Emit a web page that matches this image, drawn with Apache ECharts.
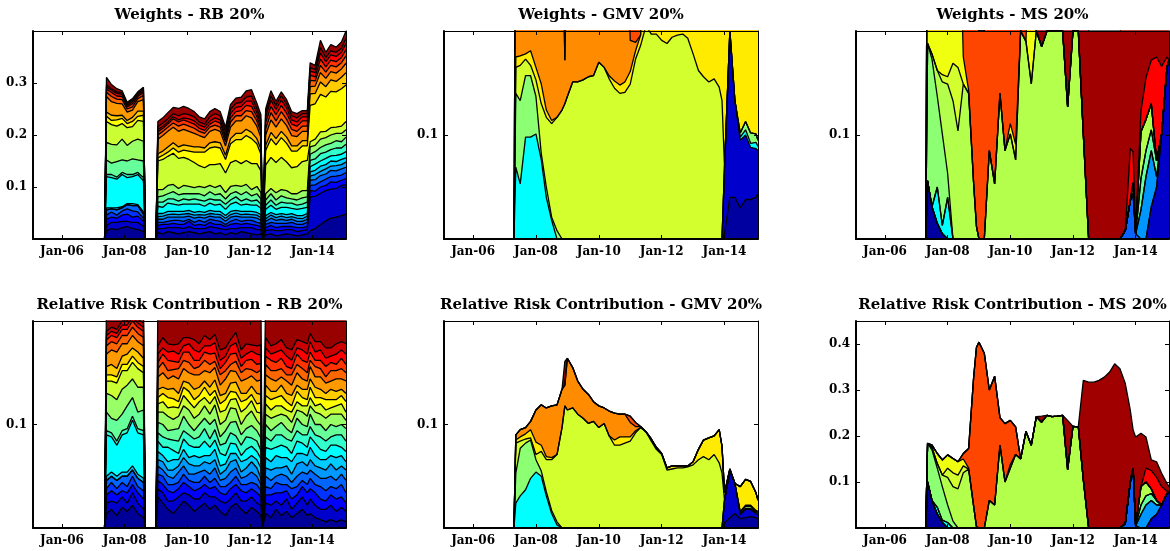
<!DOCTYPE html>
<html><head><meta charset="utf-8">
<script src="https://cdn.jsdelivr.net/npm/echarts@6/dist/echarts.min.js"></script>
<style>html,body{margin:0;padding:0;background:#fff}#c{width:1170px;height:551px}</style>
</head><body><div id="c"></div>
<script>
// ---------- time grids (fractional years) ----------
const RB_DATES = [2005.075,2007.36,2007.42,2007.58,2007.75,2007.92,2008.08,2008.25,2008.42,2008.60,2008.66,2009.00,2009.06,2009.22,2009.38,2009.55,2009.72,2009.88,2010.05,2010.22,2010.38,2010.55,2010.72,2010.88,2011.05,2011.22,2011.38,2011.55,2011.72,2011.88,2012.05,2012.22,2012.35,2012.40,2012.46,2012.50,2012.67,2012.83,2013.00,2013.17,2013.33,2013.50,2013.67,2013.83,2013.92,2014.08,2014.25,2014.42,2014.58,2014.75,2014.92,2015.065];
const GM_DATES = [2005.075,2007.30,2007.36,2007.50,2007.67,2007.83,2008.00,2008.17,2008.33,2008.50,2008.67,2008.83,2008.92,2009.00,2009.17,2009.33,2009.50,2009.67,2009.83,2010.00,2010.17,2010.33,2010.50,2010.67,2010.83,2011.00,2011.17,2011.33,2011.50,2011.67,2011.83,2012.00,2012.17,2012.33,2012.50,2012.67,2012.83,2013.00,2013.17,2013.33,2013.50,2013.67,2013.83,2013.92,2014.00,2014.17,2014.33,2014.50,2014.67,2014.83,2015.00,2015.065];
const X_TICKS = [2006,2008,2010,2012,2014];
const TITLES = ['Weights - RB 20%','Weights - GMV 20%','Weights - MS 20%','Relative Risk Contribution - RB 20%','Relative Risk Contribution - GMV 20%','Relative Risk Contribution - MS 20%'];

// ---------- values in thousandths ----------
// RB weights, assets 1..20 (stack bottom -> top)
const rbWeights = [
[0,0, 16,20,18,22,24,20,18,14, 0,0, 12,10,14,12,10,12,14,12,10,12,14,10,12,8,12,10,14,12,10,8,10, 0,0, 8,10,6,8,10,8,6,8,10,16,20,28,35,40,42,45,48],
[0,0, 10,12,14,12,10,12,14,10, 0,0, 8,10,8,10,12,8,10,8,10,8,10,12,8,10,8,10,8,10,12,10,8, 0,0, 8,8,10,8,8,10,8,8,8,65,62,60,58,56,55,58,56],
[0,0, 12,10,8,12,14,10,12,10, 0,0, 6,8,6,8,6,8,10,6,8,6,8,6,8,6,8,10,6,8,6,8,6, 0,0, 6,8,6,8,6,6,8,6,6,12,10,12,10,14,12,10,12],
[0,0, 8,10,6,8,10,12,8,6, 0,0, 6,4,6,6,8,6,4,6,8,6,6,8,6,4,6,8,6,6,8,6,6, 0,0, 6,6,8,6,6,8,6,6,8,10,12,10,12,10,12,10,12],
[0,0, 10,6,10,6,8,10,12,8, 0,0, 6,6,8,6,6,8,6,8,6,8,6,6,8,6,8,6,8,6,6,8,6, 0,0, 6,8,6,8,6,6,6,6,6,10,10,12,10,12,10,12,10],
[0,0, 0,0,0,0,0,0,0,0, 0,0, 5,6,5,6,5,6,5,6,5,6,5,6,5,6,5,6,5,6,5,6,5, 0,0, 5,6,5,6,5,5,6,5,6,8,10,8,10,8,10,8,10],
[0,0, 4,2,4,2,2,4,2,4, 0,0, 6,5,6,5,6,5,6,5,6,5,6,5,6,5,6,5,6,5,6,5,6, 0,0, 6,5,6,5,6,6,5,6,5,8,8,10,8,10,8,10,8],
[0,0, 60,58,55,62,50,52,58,60, 0,0, 14,12,16,14,12,14,12,16,14,12,14,12,14,12,14,16,12,14,12,14,12, 0,0, 12,14,10,12,14,10,12,14,12,10,12,10,12,10,12,10,12],
[0,0, 4,6,4,4,6,4,4,6, 0,0, 8,10,8,10,8,10,8,10,8,10,8,10,8,10,8,10,8,10,8,10,8, 0,0, 8,10,8,10,8,10,8,8,10,12,10,14,12,12,14,12,14],
[0,0, 28,22,30,24,26,30,24,32, 0,0, 10,12,10,14,12,10,12,10,12,10,14,10,12,10,12,10,12,14,10,12,10, 0,0, 10,12,10,12,10,8,10,12,10,12,14,12,14,12,14,12,14],
[0,0, 34,36,32,40,30,34,40,38, 0,0, 14,12,16,14,12,16,14,12,14,16,12,14,16,12,14,12,16,14,12,14,12, 0,0, 12,10,14,12,14,10,12,14,12,14,12,16,14,16,14,16,14],
[0,0, 40,38,36,30,34,28,36,38, 0,0, 55,58,56,60,58,54,52,48,40,38,40,44,42,38,46,48,44,46,50,44,42, 0,0, 55,60,58,62,55,50,52,56,58,10,12,14,12,14,12,14,16],
[0,0, 10,8,12,10,8,10,8,12, 0,0, 6,8,8,10,12,14,16,20,26,30,32,34,30,26,36,40,46,48,48,38,32, 0,0, 28,36,34,38,36,32,30,30,28,70,68,72,66,70,68,72,70],
[0,0, 8,10,8,6,6,8,10,8, 0,0, 8,8,10,10,10,10,10,10,10,8,10,10,10,8,10,12,12,12,12,10,10, 0,0, 10,12,12,12,12,10,10,10,10,22,20,24,20,22,20,22,24],
[0,0, 30,26,24,22,16,14,18,22, 0,0, 28,30,30,30,30,30,28,26,22,20,22,24,22,18,22,24,24,26,28,24,22, 0,0, 20,24,22,24,22,20,18,18,18,14,14,18,16,16,16,16,18],
[0,0, 8,10,8,8,6,6,6,8, 0,0, 8,8,8,8,10,10,10,10,8,8,8,8,8,8,10,10,10,10,12,10,10, 0,0, 12,14,12,14,12,12,10,10,10,12,10,14,12,12,12,12,14],
[0,0, 6,8,6,6,4,6,4,6, 0,0, 6,6,6,8,8,8,8,8,6,6,6,8,8,6,8,8,10,10,10,8,8, 0,0, 12,12,12,12,12,10,10,10,10,10,8,12,10,10,10,10,12],
[0,0, 4,4,5,4,3,4,3,4, 0,0, 4,4,4,4,4,4,6,6,6,6,6,6,6,6,8,8,8,8,10,8,8, 0,0, 10,12,10,10,10,8,8,8,8,8,8,12,10,10,10,10,12],
[0,0, 4,3,3,3,3,3,3,3, 0,0, 6,6,6,6,8,8,8,8,6,6,8,8,8,8,8,8,8,8,10,8,8, 0,0, 8,8,8,8,8,8,8,6,6,6,6,10,8,8,8,8,10],
[0,0, 15,8,6,4,3,3,3,3, 0,0, 10,10,12,12,14,14,12,10,10,10,10,10,8,8,10,10,10,12,12,10,10, 0,0, 8,10,8,8,8,8,8,6,6,10,8,14,10,12,10,12,14]
];
// RB relative risk contributions, assets 1..20
const rbRisk = [
[0,0, 14,18,12,20,16,22,14,10, 0,0, 30,24,18,14,20,26,22,16,20,24,18,22,16,12,20,24,18,14,20,16,12, 0,0, 14,10,18,12,16,10,14,18,12,14,10,8,6,8,6,8,6],
[0,0, 10,8,12,10,8,12,10,8, 0,0, 8,10,8,12,10,8,10,12,8,10,12,8,10,12,8,10,8,12,10,8,10, 0,0, 10,12,8,10,12,8,10,12,10,14,12,10,12,14,10,12,10],
[0,0, 8,10,8,6,10,8,10,10, 0,0, 8,8,10,8,8,10,8,8,10,8,8,10,8,8,10,8,10,8,8,10,8, 0,0, 8,10,8,12,8,10,8,10,12,10,12,10,8,10,12,10,8],
[0,0, 6,8,6,8,6,8,6,8, 0,0, 6,8,6,8,6,8,6,8,6,8,6,8,6,8,6,8,6,8,6,8,6, 0,0, 8,6,10,8,6,10,8,6,8,10,8,12,10,8,10,12,10],
[0,0, 8,6,8,6,10,6,8,8, 0,0, 8,6,8,6,10,8,6,8,10,6,8,10,6,8,10,8,6,8,10,8,6, 0,0, 10,8,6,10,8,6,10,8,10,8,10,8,12,10,8,10,12],
[0,0, 0,0,0,0,0,0,0,0, 0,0, 6,8,6,8,6,8,10,8,6,8,10,8,6,8,10,8,6,8,10,8,6, 0,0, 8,10,8,6,10,8,12,10,8,10,8,10,8,12,10,8,10],
[0,0, 4,4,4,4,4,4,4,4, 0,0, 8,6,8,10,6,8,6,10,8,6,8,10,8,6,8,6,10,8,6,8,10, 0,0, 10,8,12,10,8,12,10,8,10,12,10,8,10,8,12,10,8],
[0,0, 40,34,30,36,38,44,40,42, 0,0, 10,8,14,9,6,10,12,8,10,14,8,9,12,8,10,9,6,10,9,8,9, 0,0, 10,12,8,12,10,8,12,10,8,10,12,10,8,10,12,8,10],
[0,0, 4,4,4,4,4,4,4,4, 0,0, 8,10,8,10,12,8,10,8,10,12,8,10,8,12,10,8,10,12,8,10,8, 0,0, 10,8,12,10,8,12,10,8,12,10,8,12,10,8,10,12,10],
[0,0, 18,14,20,16,22,18,16,20, 0,0, 10,12,8,10,12,14,10,8,12,10,14,10,8,12,10,14,10,8,12,10,12, 0,0, 12,10,8,12,10,8,12,10,8,12,10,12,10,12,8,10,12],
[0,0, 18,22,20,24,20,18,24,22, 0,0, 10,12,14,10,12,10,14,12,10,12,10,14,12,10,14,12,10,12,14,10,12, 0,0, 10,12,10,8,12,10,8,12,10,8,12,10,12,10,12,10,8],
[0,0, 12,14,16,18,14,16,18,14, 0,0, 8,10,8,12,8,10,8,10,12,8,10,8,12,10,8,10,12,8,10,8,12, 0,0, 10,8,10,8,6,10,8,6,10,8,6,10,8,6,8,10,8],
[0,0, 6,6,6,6,6,6,6,6, 0,0, 6,8,10,8,6,8,10,8,6,10,8,6,8,10,8,6,10,8,6,8,10, 0,0, 8,10,8,10,8,6,10,8,6,10,8,6,10,8,6,8,10],
[0,0, 8,10,8,8,10,8,10,8, 0,0, 8,6,8,10,8,6,8,10,8,6,8,10,8,6,8,10,8,6,8,10,8, 0,0, 10,8,6,10,8,10,6,8,10,8,10,8,6,10,8,6,8],
[0,0, 12,14,16,12,10,12,10,12, 0,0, 12,14,10,12,14,12,10,14,12,10,14,12,10,14,12,10,12,14,10,12,14, 0,0, 10,12,10,8,12,10,12,10,8,12,10,12,10,8,12,10,12],
[0,0, 8,8,8,8,8,8,8,8, 0,0, 8,10,8,6,10,8,10,6,8,10,8,6,10,8,6,10,8,10,6,8,10, 0,0, 10,8,10,8,6,10,8,10,8,6,10,8,6,10,8,10,8],
[0,0, 6,6,6,6,6,6,6,6, 0,0, 6,8,10,8,6,8,10,8,6,8,10,8,6,8,10,8,6,8,10,8,6, 0,0, 8,10,8,10,8,6,10,8,10,8,6,8,10,8,6,10,8],
[0,0, 4,4,4,4,4,4,4,4, 0,0, 8,6,8,10,8,6,8,10,8,6,8,10,8,6,8,10,8,6,8,10,8, 0,0, 8,6,10,8,10,8,6,10,8,10,8,10,8,6,10,8,10],
[0,0, 4,4,4,4,4,4,4,4, 0,0, 8,10,8,6,10,8,6,10,8,10,6,8,10,8,6,10,8,10,6,8,10, 0,0, 10,8,8,10,8,10,8,8,10,8,10,8,10,8,10,8,10],
[0,0, 30,30,30,30,30,30,30,30, 0,0, 40,40,40,40,40,40,40,40,40,40,40,40,40,40,40,40,40,40,40,40,40, 0,0, 40,40,40,40,40,40,40,40,40,40,40,40,40,40,40,40,40]
];
// GMV weights: assets 1,2,8,10,12,13,15,16,20
const gmvWeights = [
[0,0,0,0,0,0,0,0,0,0, 0,0,0,0,0,0,0,0,0,0, 0,0,0,0,0,0,0,0,0,0, 0,0,0,0,0,0,0,0,0,0, 0,0,0,0, 5,40,40,30,38,38,40,44],
[0,0,0,0,0,0,0,0,0,0, 0,0,0,0,0,0,0,0,0,0, 0,0,0,0,0,0,0,0,0,0, 0,0,0,0,0,0,0,0,0,0, 0,0,0,0, 64,160,93,65,62,50,47,41],
[0,0, 69,53,98,98,101,76,40,18,0, 0,0,0,0,0,0,0,0,0,0, 0,0,0,0,0,0,0,0,0,0, 0,0,0,0,0,0,0,0,0,0, 0,0,0,0,0,0, 3,5,4,6,4],
[0,0, 71,80,59,59,36,6,10,3,8, 0,0,0,0,0,0,0,0,0,0, 0,0,0,0,0,0,0,0,0,0, 0,0,0,0,0,0,0,0,0,0, 0,0,0,0,0,0, 4,8,10,8,6],
[0,0, 25,34,16,10,16,48,67,90,109, 124,130,137,151,151,153,156,157,170,165,154,145,140,141,149,173,186,205,197,197,191,188,194,196,197,193,178,162,156,151,154,146,133, 0,0,0,0,0,0,0,0],
[0,0, 10,9,5,14,12,19,7,3,0, 0,0,0,0,0,0,0,0,0,0, 3,7,8,10,12,8,10, 200,200,200,200,200,200,200,200,200,200,200,200,200,200,200,200,200,200,200,200,200,200,200,200],
[0,0, 200,200,200,200,200,200,200,200,200,200, 42, 200,200,200,200,200,200,200,200,200,200,200,200, 30,8, 0,0,0,0,0,0,0,0,0,0,0,0,0,0,0,0,0,0,0,0,0,0,0,0,0],
[0,0,0,0,0,0,0,0,0,0, 0,0,0,0,0,0,0,0,0,0, 0,0,0,0,0, 200,200,200, 0,0,0,0,0,0,0,0,0,0,0,0,0,0,0,0,0,0,0,0,0,0,0,0],
[0,0,0,0,0,0,0,0,0,0, 0,0, 200, 0,0,0,0,0,0,0,0,0,0,0,0,0,0,0,0,0,0,0,0,0,0,0,0,0,0,0,0,0,0,0,0,0,0,0,0,0,0,0]
];
// GMV relative risk contributions: assets 1,2,8,10,12,13,15,16,20
const gmvRisk = [
[0,0,0,0,0,0,0,0,0,0, 0,0,0,0,0,0,0,0,0,0, 0,0,0,0,0,0,0,0,0,0, 0,0,0,0,0,0,0,0,0,0, 0,0,0,0, 5,10,14,9,10,11,10,8],
[0,0,0,0,0,0,0,0,0,0, 0,0,0,0,0,0,0,0,0,0, 0,0,0,0,0,0,0,0,0,0, 0,0,0,0,0,0,0,0,0,0, 0,0,0,0, 22,45,29,4,8,7,4,5],
[0,0, 24,31,37,48,54,50,31,14,3, 0,0,0,0,0,0,0,0,0,0, 0,0,0,0,0,0,0,0,0,0, 0,0,0,0,0,0,0,0,0,0, 0,0,0,0,0,0, 1,1,1,1,1],
[0,0, 29,46,45,37,12,5,4,3,3, 0,0,0,0,0,0,0,0,0,0, 0,0,0,0,0,0,0,0,0,0, 0,0,0,0,0,0,0,0,0,0, 0,0,0,0,0,0, 1,2,2,1,1],
[0,0, 29,7,4,2,5,19,31,49,65, 97,118,114,116,110,106,101,103,97,101,89,80,80,82,84,92,97,93,84,76,71,56,57,58,58,59,61,66,69,66,71,63,53, 0,1,0,1,1,1,1,1],
[0,0, 3,4,5,8,12,6,3,2,0, 0,0,0,0,0,0,0,0,0,0,0, 5,8,6,4,2, 0,0, 2,2,1,2,3,2,2,1,3,10,16,21,18,32,26, 7,1,0,24,25,23,17,11],
[0,0, 5,7,6,8,31,39,47,50,48, 37,20,50,39,32,28,28,19,21,15,24,26,22,22,14,4,1, 0,0,0,0,0,0,0,0,0,0,0,0,0,0,0,0,0,0,0,0,0,0,0,0],
[0,0,0,0,0,0,0,0,0,0, 0,0,0,0,0,0,0,0,0,0, 0,0,0,0,0, 6,4, 0,0,0,0,0,0,0,0,0,0,0,0,0,0,0,0,0,0,0,0,0,0,0,0,0],
[0,0,0,0,0,0,0,0,0,0, 0,0, 23, 0,0,0,0,0,0,0,0,0,0,0,0,0,0,0,0,0,0,0,0,0,0,0,0,0,0,0,0,0,0,0,0,0,0,0,0,0,0,0]
];
// MS weights: assets 1,2,5,6,8,9,10,11,12,13,16,18,20
const msWeights = [
[0,0, 56,31,15,5, 0,0,0,0,0,0,0,0,0,0, 0,0,0,0,0,0,0,0,0,0, 0,0,0,0,0,0,0,0,0,0, 0,0,0,0,0,0,0,0,0,0, 0,0,0,0,0,0],
[0,0,0,0,0,0,0,0,0,0, 0,0,0,0,0,0,0,0,0,0, 0,0,0,0,0,0,0,0,0,0, 0,0,0,0,0,0,0,0,0,0, 0,0,0,0,0,0,0, 31,50,101,165,172],
[0,0,0,0,0,0,0,0,0,0, 0,0,0,0,0,0,0,0,0,0, 0,0,0,0,0,0,0,0,0,0, 0,0,0,0,0,0,0,0,0,0, 0, 8,37,44,5, 0,0,0,0,0,0,0],
[0,0,0,0,0,0,0,0,0,0, 0,0,0,0,0,0,0,0,0,0, 0,0,0,0,0,0,0,0,0,0, 0,0,0,0,0,0,0,0,0,0, 0,0,0,0,0, 28,60,54,10, 0,0,0],
[0,0,0,0, 35,8,40, 0,0,0,0,0,0,0,0,0,0, 0,0,0,0,0,0,0,0,0,0, 0,0,0,0,0,0,0,0,0,0, 0,0,0,0,0,0,0,0,0,0, 0,0,0,0,0],
[0,0,0,0,0,0,0,0,0,0, 0,0,0,0,0,0,0,0,0,0, 0,0,0,0,0,0,0,0,0,0, 0,0,0,0,0,0,0,0,0,0, 0,0,0,0,0, 30,25,20,15, 0,0,0],
[0,0, 132,142,87,88,23, 0,0,0,0,0,0,0,0,0,0, 0,0,0,0,0,0,0,0,0,0, 0,0,0,0,0,0,0,0,0,0, 0,0,0,0,0,0,0,0,0,0, 0,0,0,0,0],
[0,0, 0,5,25,50,86,133,104,149,140,53,12,0,0,85,53,140,85,101,76,200,190,149,200,185,200,200,200,200,127,200,200,101, 0,0,0,0,0,0,0,0,0, 10,0,45,30,25, 0,0,0,0],
[0,0,0,0,0, 7,7,36,61, 0,0,0,0,0,0,0,0,0,0, 0,0,0,0,0,0,0,0,0,0, 0,0,0,0,0,0,0,0,0,0, 0,0,0,0,0,0,0,0,0,0, 0,0,0],
[0,0, 200,200,200,200,200,200,200, 26,3, 0,0,0,0,0,0,0,0, 10,15, 0,0, 200, 0,0,0,0,0,0,0,0,0,0,0,0,0,0,0,0,0,0,0,0,0,0,0,0,0,0,0,0],
[0,0,0,0,0,0,0,0,0, 200,200,200,200,200,200,200,200,200,200,200,200, 0, 200, 0,0,0,0,0,0,0,0,0,0,0,0,0,0,0,0,0,0,0,0,0,0,0,0,0,0,0,0,0],
[0,0,0,0,0,0,0,0,0,0, 0,0,0,0,0,0,0,0,0,0, 0,0,0,0,0,0,0,0,0,0, 0,0,0,0,0,0,0,0,0,0, 0,0, 50,30,0,20,40,42,100,65,10,0],
[0,0,0,0,0,0,0,0,0,0, 0,0,0,0,0,0,0,0,0,0, 0,0,0,0,0, 200, 0,0,0,0, 200, 0,0, 200,200,200,200,200,200,200,200,200,200,200,200,200,200,200,200,200,200,200]
];
// MS relative risk contributions: assets 1,2,5,6,8,9,10,11,12,13,16,18,20
const msRisk = [
[0,0, 100,60,30,12, 0,0,0,0,0,0,0,0,0,0, 0,0,0,0,0,0,0,0,0,0, 0,0,0,0,0,0,0,0,0,0, 0,0,0,0,0,0,0,0,0,0, 0,0,0,0,0,0],
[0,0,0,0,0,0,0,0,0,0, 0,0,0,0,0,0,0,0,0,0, 0,0,0,0,0,0,0,0,0,0, 0,0,0,0,0,0,0,0,0,0, 0,0,0,0,0,0,0, 20,30,50,75,78],
[0,0,0,0,0,0,0,0,0,0, 0,0,0,0,0,0,0,0,0,0, 0,0,0,0,0,0,0,0,0,0, 0,0,0,0,0,0,0,0,0,0, 0, 10,100,130,5, 0,0,0,0,0,0,0],
[0,0,0,0,0,0,0,0,0,0, 0,0,0,0,0,0,0,0,0,0, 0,0,0,0,0,0,0,0,0,0, 0,0,0,0,0,0,0,0,0,0, 0,0,0,0,0, 30,50,40,20, 0,0,0],
[0,0,0,0, 15,5,12, 0,0,0,0,0,0,0,0,0,0, 0,0,0,0,0,0,0,0,0,0, 0,0,0,0,0,0,0,0,0,0, 0,0,0,0,0,0,0,0,0,0, 0,0,0,0,0],
[0,0,0,0,0,0,0,0,0,0, 0,0,0,0,0,0,0,0,0,0, 0,0,0,0,0,0,0,0,0,0, 0,0,0,0,0,0,0,0,0,0, 0,0,0,0,0, 20,20,15,10, 0,0,0],
[0,0, 84,110,85,73,38,15, 0,0,0,0,0,0,0,0,0,0, 0,0,0,0,0,0,0,0,0,0, 0,0,0,0,0,0,0,0,0,0, 0,0,0,0,0,0,0,0,0,0, 0,0,0,0],
[0,0, 0,5,10,25,60,75,85,120,128,47,3,0,0,60,50,180,100,130,160,150,210,180,242,230,245,242,243,245,127,221,220,105, 0,0,0,0,0,0,0,0,0,0,0, 40,30,10, 0,0,0,0],
[0,0,0,0,0,0, 20,30,30,15, 0,0,0,0,0,0,0,0,0,0, 0,0,0,0,0,0,0,0,0,0, 0,0,0,0,0,0,0,0,0,0, 0,0,0,0,0,0,0,0,0,0, 0,0],
[0,0,0, 5,22,33,29,31,29,15,2, 0,0,0,0,0,0,0,0, 8, 0,0,0,0,0,0,0,0,0,0,0,0,0,0,0,0,0,0,0,0,0,0,0,0,0,0,0,0,0,0,0,0],
[0,0,0,0,0,0,0,0,0, 12,43,281,390,404,380,240,280,60,127,96,60, 0,0,0,0,0,0,0,0,0,0,0,0,0,0,0,0,0,0,0,0,0,0,0,0,0,0,0,0,0,0,0],
[0,0,0,0,0,0,0,0,0,0, 0,0,0,0,0,0,0,0,0,0, 0,0,0,0,0,0,0,0,0,0, 0,0,0,0,0,0,0,0,0,0, 0,0,0,0,0,0, 30,40,50,40,5, 0],
[0,0,0,0,0,0,0,0,0,0, 0,0,0,0,0,0,0,0,0,0, 0,0,0,0,0, 13, 0,0,0,0, 107, 0,0, 216,317,317,321,328,339,357,346,304,156,83,193,116,68,23,34,29,17,12]
];

// ---------- styles ----------
const JET20 = ['#000099','#0000CC','#0000FF','#0033FF','#0066FF','#0099FF','#00CCFF','#00FFFF','#33FFCC','#66FF99','#99FF66','#CCFF33','#FFFF00','#FFCC00','#FF9900','#FF6600','#FF3300','#FF0000','#CC0000','#990000'];
const GMV_COLORS = ['#0000A0','#0000CD','#00FFFF','#8CFF73','#D2FF2D','#FFEB00','#FF8C00','#FF4B00','#A00000'];
const MS_COLORS = ['#0000A0','#0000C8','#0A64FF','#0096FF','#00FFFF','#64FFA0','#8CFF73','#B4FF4B','#D2FF2D','#F0FF0F','#FF4600','#FF0000','#A00000'];

const GRIDS = [
  {left:33, top:31, width:313, height:208},
  {left:444, top:31, width:314, height:208},
  {left:856, top:31, width:313, height:208},
  {left:33, top:321, width:313, height:207},
  {left:444, top:321, width:314, height:207},
  {left:856, top:321, width:313, height:207}
];
const YCFG = [
  {max:0.4, labels:[0.1,0.2,0.3]},
  {max:0.2, labels:[0.1]},
  {max:0.2, labels:[0.1]},
  {max:0.2, labels:[0.1]},
  {max:0.2, labels:[0.1]},
  {max:0.45, labels:[0.1,0.2,0.3,0.4]}
];
const PANELS = [
  {layers:rbWeights, dates:RB_DATES, colors:JET20},
  {layers:gmvWeights, dates:GM_DATES, colors:GMV_COLORS},
  {layers:msWeights, dates:GM_DATES, colors:MS_COLORS},
  {layers:rbRisk, dates:RB_DATES, colors:JET20},
  {layers:gmvRisk, dates:GM_DATES, colors:GMV_COLORS},
  {layers:msRisk, dates:GM_DATES, colors:MS_COLORS}
];

const FONT = 'DejaVu Serif';
const xAxes = [], yAxes = [], series = [], graphics = [];
const axLine = w => ({show:true, onZero:false, lineStyle:{color:'#000', width:w}});
GRIDS.forEach((g, i) => {
  xAxes.push({type:'value', gridIndex:i, position:'bottom', min:2005.075, max:2015.065,
    axisLine:axLine(2), splitLine:{show:false}, z:5,
    axisTick:{show:true, inside:true, length:4, customValues:X_TICKS, lineStyle:{color:'#000'}},
    axisLabel:{show:true, customValues:X_TICKS, margin:7, color:'#000', fontFamily:FONT, fontWeight:'bold', fontSize:12,
      formatter:v => 'Jan-' + String(Math.round(v)).slice(2)}});
  xAxes.push({type:'value', gridIndex:i, position:'top', min:2005.075, max:2015.065,
    axisLine:axLine(1), splitLine:{show:false}, z:5,
    axisTick:{show:true, inside:true, length:4, customValues:X_TICKS, lineStyle:{color:'#000'}},
    axisLabel:{show:false}});
  const yc = YCFG[i];
  yAxes.push({type:'value', gridIndex:i, position:'left', min:0, max:yc.max,
    axisLine:axLine(2), splitLine:{show:false}, z:5,
    axisTick:{show:true, inside:true, length:4, customValues:yc.labels, lineStyle:{color:'#000'}},
    axisLabel:{show:true, customValues:yc.labels, margin:6, color:'#000', fontFamily:FONT, fontWeight:'bold', fontSize:12,
      formatter:v => v.toFixed(1)}});
  yAxes.push({type:'value', gridIndex:i, position:'right', min:0, max:yc.max,
    axisLine:axLine(1), splitLine:{show:false}, z:5,
    axisTick:{show:true, inside:true, length:4, customValues:yc.labels, lineStyle:{color:'#000'}},
    axisLabel:{show:false}});
  // stacked areas: running totals of the layers, drawn from the top layer down
  const p = PANELS[i];
  const running = p.dates.map(() => 0);
  const tops = p.layers.map(vals => vals.map((v, j) => (running[j] += v / 1000)));
  for (let k = tops.length - 1; k >= 0; k--) {
    series.push({type:'line', xAxisIndex:2*i, yAxisIndex:2*i,
      data: tops[k].map((v, j) => [p.dates[j], v]),
      symbol:'none', showSymbol:false, clip:true, silent:true,
      lineStyle:{color:'#000', width:1.3},
      itemStyle:{color:p.colors[k]},
      areaStyle:{color:p.colors[k], opacity:1, origin:'start'},
      emphasis:{disabled:true}});
  }
  graphics.push({type:'text', x:g.left + g.width/2, y:(i < 3 ? 15.5 : 305),
    style:{text:TITLES[i], align:'center', verticalAlign:'middle', fill:'#000',
      font:'bold 15px "DejaVu Serif"'}});
});

const chart = echarts.init(document.getElementById('c'), null, {renderer:'canvas'});
chart.setOption({
  backgroundColor:'#fff', animation:false,
  grid: GRIDS, xAxis: xAxes, yAxis: yAxes, series: series, graphic: graphics
});
</script></body></html>
